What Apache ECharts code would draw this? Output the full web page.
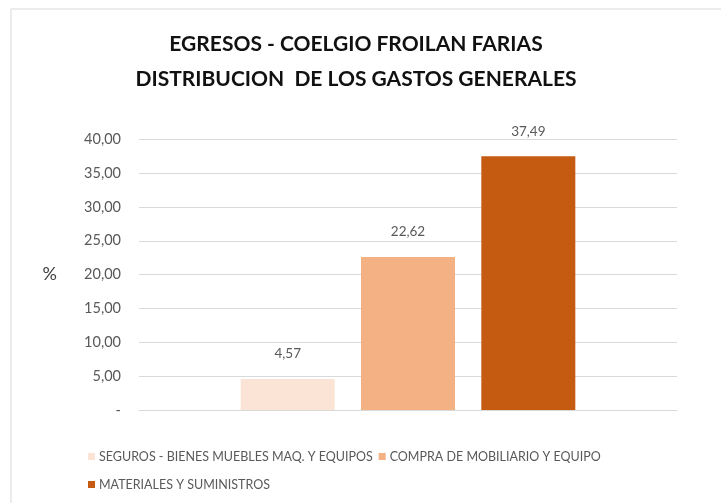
<!DOCTYPE html>
<html>
<head>
<meta charset="utf-8">
<script src="https://cdn.jsdelivr.net/npm/echarts@6/dist/echarts.min.js"></script>
<style>
html,body{margin:0;padding:0;background:#fff;}
#chart{width:721px;height:503px;}
</style>
</head>
<body>
<div id="chart"></div>
<script>
var titleText = 'EGRESOS - COELGIO FROILAN FARIAS\nDISTRIBUCION  DE LOS GASTOS GENERALES';
var categories = [''];
var seriesNames = ['SEGUROS - BIENES MUEBLES MAQ. Y EQUIPOS', 'COMPRA DE MOBILIARIO Y EQUIPO', 'MATERIALES Y SUMINISTROS'];
var seriesValues = [[4.57], [22.62], [37.49]];
var seriesColors = ['#FBE4D5', '#F4B183', '#C55A11'];
var yTicks = {min: 0, max: 40, interval: 5};

var fontN = 'Lato, "Open Sans", sans-serif';
var chart = echarts.init(document.getElementById('chart'), null, {renderer: 'canvas'});

var series = seriesNames.map(function (name, i) {
  return {
    name: name,
    type: 'bar',
    data: seriesValues[i],
    barWidth: 94,
    barGap: '28%',
    itemStyle: {color: seriesColors[i]},
    label: {
      show: true,
      position: 'top',
      distance: 18,
      color: '#595959',
      fontFamily: fontN,
      fontSize: 13.5,
      formatter: function (p) { return p.value.toFixed(2).replace('.', ','); }
    }
  };
});

chart.setOption({
  animation: false,
  backgroundColor: '#fff',
  graphic: [{
    type: 'rect',
    shape: {x: 11, y: 9, width: 800, height: 600},
    style: {fill: 'none', stroke: '#d9d9d9', lineWidth: 1},
    silent: true
  }],
  title: {
    text: titleText,
    left: 351,
    top: 22,
    textAlign: 'center',
    textStyle: {
      fontFamily: fontN,
      fontWeight: 'bold',
      fontSize: 21,
      lineHeight: 35,
      color: '#111'
    }
  },
  legend: [{
    data: seriesNames.slice(0, 2),
    left: 83,
    top: 445,
    itemWidth: 7,
    itemHeight: 7,
    itemGap: 6,
    icon: 'rect',
    textStyle: {fontFamily: fontN, fontSize: 12.5, color: '#595959', padding: [0, 0, 0, -1]}
  }, {
    data: seriesNames.slice(2),
    left: 83,
    top: 473,
    itemWidth: 7,
    itemHeight: 7,
    itemGap: 6,
    icon: 'rect',
    textStyle: {fontFamily: fontN, fontSize: 12.5, color: '#595959', padding: [0, 0, 0, -1]}
  }],
  grid: {left: 139, right: 44, top: 139.3, bottom: 93, containLabel: false},
  xAxis: {
    type: 'category',
    data: categories,
    axisLine: {show: true, lineStyle: {color: '#d9d9d9'}},
    axisTick: {show: false},
    axisLabel: {show: false}
  },
  yAxis: {
    type: 'value',
    min: yTicks.min,
    max: yTicks.max,
    interval: yTicks.interval,
    name: '%',
    nameLocation: 'middle',
    nameRotate: 0,
    nameGap: 82,
    nameTextStyle: {fontFamily: fontN, fontSize: 18, color: '#404040'},
    axisLine: {show: false},
    axisTick: {show: false},
    splitLine: {lineStyle: {color: '#d9d9d9'}},
    axisLabel: {
      margin: 18,
      fontFamily: fontN,
      fontSize: 14.5,
      color: '#595959',
      formatter: function (v) { return v === 0 ? '-' : v.toFixed(2).replace('.', ','); }
    }
  },
  series: series
});
</script>
</body>
</html>
